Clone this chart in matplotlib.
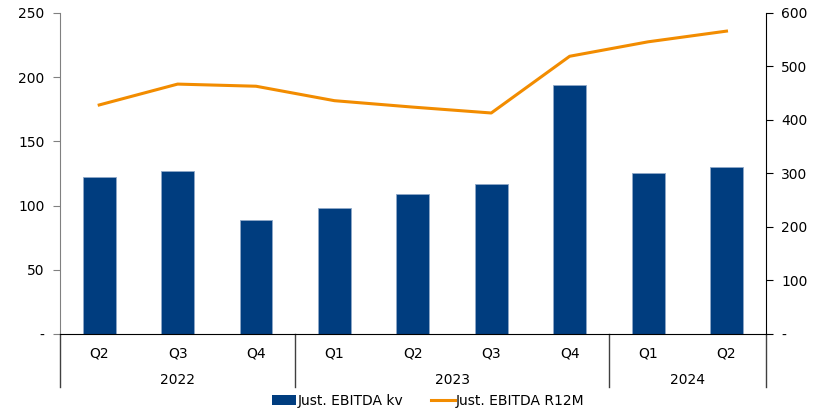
import numpy as np
import matplotlib.pyplot as plt
from matplotlib.lines import Line2D
from matplotlib.patches import Patch

quarters = ['Q2', 'Q3', 'Q4', 'Q1', 'Q2', 'Q3', 'Q4', 'Q1', 'Q2']
years = ['2022', '2023', '2024']
year_counts = [3, 4, 2]
ebitda_kv = [122, 127, 89, 98, 109, 117, 194, 125, 130]
ebitda_r12m = [428, 467, 463, 436, 424, 413, 519, 546, 566]

bar_color = '#003D7F'
line_color = '#F28C00'

plt.rcParams['font.family'] = ['DejaVu Sans']
plt.rcParams['font.size'] = 10

fig = plt.figure(figsize=(8.13, 4.09), dpi=100)
ax = fig.add_axes([0.0738, 0.1834, 0.868, 0.785])
ax2 = ax.twinx()

x = np.arange(len(quarters))
ax.bar(x, ebitda_kv, width=0.42, color=bar_color, edgecolor='#8FA8C8', linewidth=0.6, zorder=2)
ax2.plot(x, ebitda_r12m, color=line_color, linewidth=2.2, solid_joinstyle='round')

ax.set_xlim(-0.5, len(quarters) - 0.5)
ax.set_ylim(0, 250)
ax2.set_ylim(0, 600)
ax.set_yticks([0, 50, 100, 150, 200, 250])
ax.set_yticklabels(['-', '50', '100', '150', '200', '250'])
ax2.set_yticks([0, 100, 200, 300, 400, 500, 600])
ax2.set_yticklabels(['-', '100', '200', '300', '400', '500', '600'])

for a in (ax, ax2):
    a.spines['top'].set_visible(False)
ax.spines['right'].set_visible(False)
ax2.spines['left'].set_visible(False)
ax2.spines['bottom'].set_visible(False)
ax.spines['left'].set_color('#808080')
ax.spines['right'].set_color('black')
ax2.spines['right'].set_color('black')
ax.spines['bottom'].set_color('black')
ax.tick_params(axis='y', colors='#808080', labelcolor='black', length=5, pad=6)
ax2.tick_params(axis='y', colors='black', labelcolor='black', length=5, pad=6)
ax.tick_params(axis='x', length=0)
ax.set_xticks([])

# two-level x axis labels
for i, q in enumerate(quarters):
    ax.text(i, -0.06, q, transform=ax.get_xaxis_transform(), ha='center', va='center')

bounds = np.concatenate([[0], np.cumsum(year_counts)]) - 0.5
for j, yr in enumerate(years):
    mid = (bounds[j] + bounds[j + 1]) / 2
    ax.text(mid, -0.142, yr, transform=ax.get_xaxis_transform(), ha='center', va='center')
for b in bounds:
    ax.add_line(Line2D([b, b], [0, -0.165], transform=ax.get_xaxis_transform(),
                       color='#404040', linewidth=1, clip_on=False))

handles = [Patch(facecolor=bar_color, label='Just. EBITDA kv'),
           Line2D([0], [0], color=line_color, linewidth=2.2, label='Just. EBITDA R12M')]
fig.legend(handles=handles, loc='lower center', bbox_to_anchor=(0.527, -0.027), ncol=2,
           frameon=False, handlelength=1.7, handleheight=0.7, columnspacing=2.0, handletextpad=0.1)

fig.savefig('out.png', dpi=100)
